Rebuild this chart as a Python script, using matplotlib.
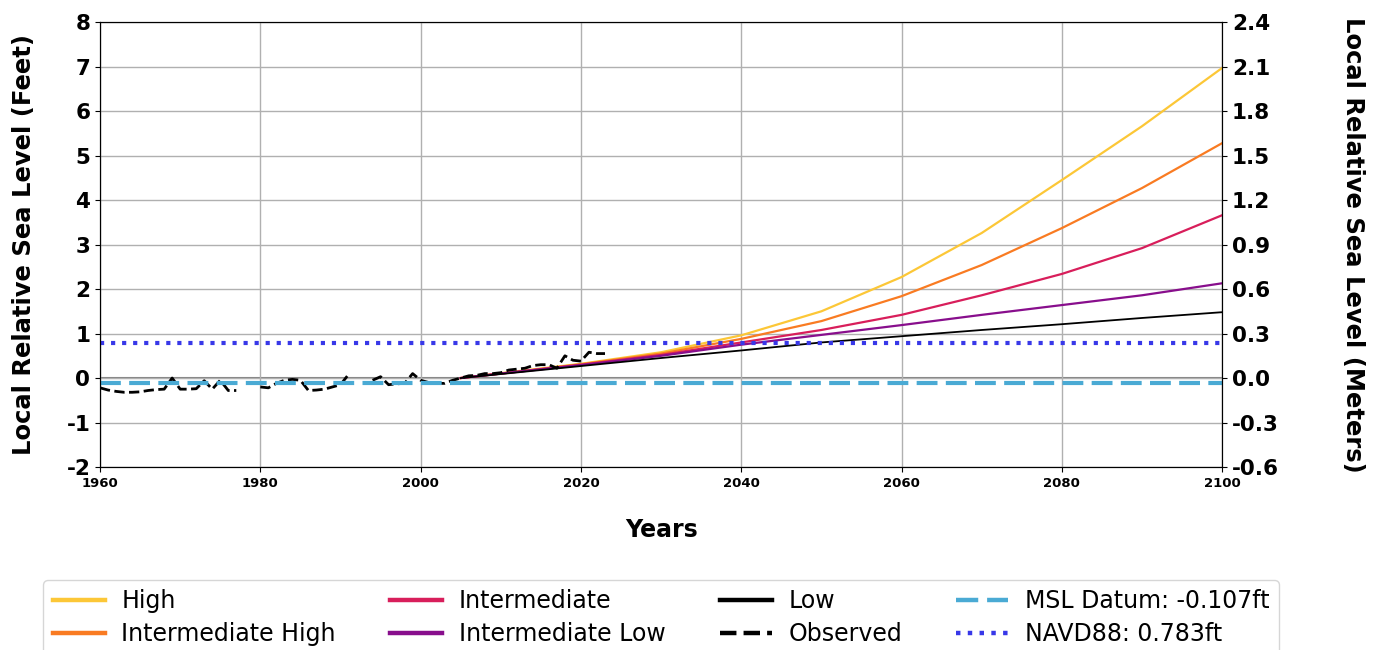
import numpy as np
import matplotlib
matplotlib.use('Agg')
import matplotlib.pyplot as plt

plt.rcParams['axes.unicode_minus'] = False

# projection scenarios (feet)
proj_years = [2005, 2010, 2020, 2030, 2040, 2050, 2060, 2070, 2080, 2090, 2100]
high = [0.0, 0.11, 0.32, 0.58, 0.96, 1.50, 2.27, 3.26, 4.45, 5.66, 6.97]
int_high = [0.0, 0.10, 0.31, 0.55, 0.88, 1.28, 1.84, 2.54, 3.37, 4.27, 5.28]
intermediate = [0.0, 0.10, 0.30, 0.52, 0.80, 1.08, 1.42, 1.86, 2.34, 2.92, 3.66]
int_low = [0.0, 0.10, 0.29, 0.50, 0.75, 0.97, 1.19, 1.42, 1.64, 1.86, 2.13]
low = [0.0, 0.09, 0.27, 0.45, 0.62, 0.80, 0.94, 1.08, 1.21, 1.35, 1.48]

# observed annual means (feet), NaN = missing year
obs_years = list(range(1960, 2024))
observed = [-0.22, -0.27, -0.30, -0.32, -0.32, -0.31, -0.28, -0.26, -0.25, 0.00,
            -0.25, -0.25, -0.24, -0.06, -0.25, -0.05, -0.28, -0.28, np.nan, np.nan,
            -0.20, -0.22, -0.12, -0.05, -0.03, -0.05, -0.28, -0.27, -0.25, -0.20,
            -0.15, 0.08, np.nan, np.nan, -0.05, 0.03, -0.15, -0.13, -0.12, 0.10,
            -0.05, -0.10, -0.12, -0.12, -0.05, 0.00, 0.05, 0.06, 0.10, 0.10,
            0.12, 0.18, 0.20, 0.22, 0.28, 0.30, 0.30, 0.22, 0.50, 0.40,
            0.38, 0.58, 0.55, 0.55]

msl_datum = -0.107
navd88 = 0.783

fig = plt.figure(figsize=(13.76, 6.5), dpi=100)
ax = fig.add_axes([0.0727, 0.2815, 0.8155, 0.6845])

ax.plot(proj_years, high, color='#FCC737', lw=1.6, label='High')
ax.plot(proj_years, int_high, color='#F97B22', lw=1.6, label='Intermediate High')
ax.plot(proj_years, intermediate, color='#D81E5B', lw=1.6, label='Intermediate')
ax.plot(proj_years, int_low, color='#880E8C', lw=1.6, label='Intermediate Low')
ax.plot(proj_years, low, color='black', lw=1.3, label='Low')
ax.plot(obs_years, observed, color='black', ls='--', lw=2, label='Observed')
ax.axhline(0, color='gray', lw=1.5, zorder=1)
ax.axhline(msl_datum, color='#4AAAD4', ls=(0, (5, 2)), lw=3,
           label='MSL Datum: {}ft'.format(msl_datum))
ax.axhline(navd88, color='#3838E8', ls=':', lw=3,
           label='NAVD88: {}ft'.format(navd88))

ax.set_xlim(1960, 2100)
ax.set_ylim(-2, 8)
ax.set_xticks(range(1960, 2101, 20))
ax.set_yticks(range(-2, 9))
ax.grid(True, color='#b0b0b0', lw=1)
for lbl in ax.get_xticklabels():
    lbl.set_fontsize(9.5)
    lbl.set_fontweight('bold')
for lbl in ax.get_yticklabels():
    lbl.set_fontsize(15.5)
    lbl.set_fontweight('bold')
ax.set_xlabel('Years', fontsize=17, fontweight='bold', labelpad=20)
ax.set_ylabel('Local Relative Sea Level (Feet)', fontsize=17.5, fontweight='bold',
              labelpad=22)

ax2 = ax.twinx()
ax2.set_ylim(-0.6, 2.4)
ax2.set_yticks(np.round(np.arange(-0.6, 2.41, 0.3), 1))
for lbl in ax2.get_yticklabels():
    lbl.set_fontsize(15.5)
    lbl.set_fontweight('bold')
ax2.set_ylabel('Local Relative Sea Level (Meters)', fontsize=17.5, fontweight='bold',
               rotation=270, labelpad=62)

leg = ax.legend(loc='upper center', bbox_to_anchor=(0.5, -0.227), ncol=4, fontsize=17,
                frameon=True, columnspacing=2.3, handlelength=2.2, handletextpad=0.7,
                labelspacing=0.38)
for h in leg.legend_handles:
    h.set_linewidth(3.2)

fig.savefig('out.png', dpi=100)
